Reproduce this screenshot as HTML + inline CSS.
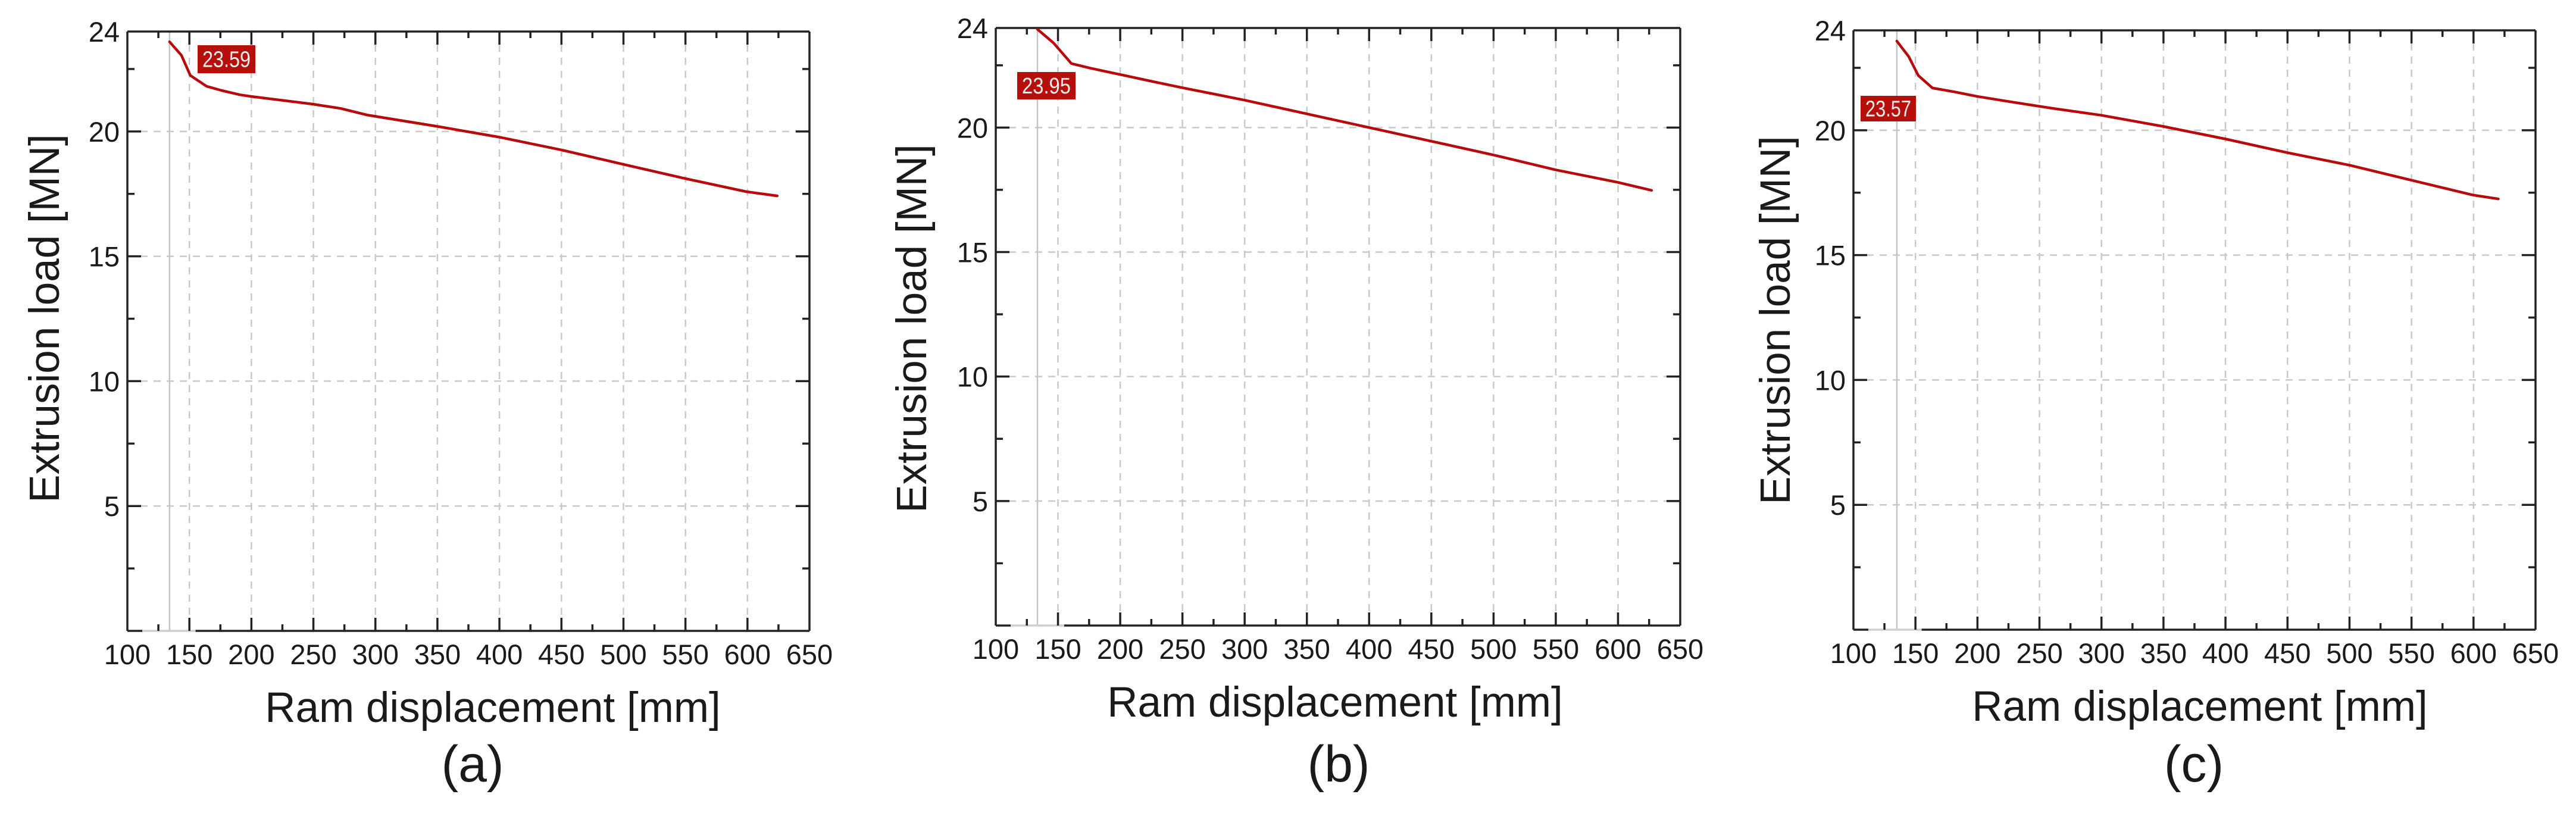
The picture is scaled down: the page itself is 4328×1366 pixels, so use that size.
<!DOCTYPE html>
<html>
<head>
<meta charset="utf-8">
<style>
  html, body { margin: 0; padding: 0; background: #ffffff; }
  svg { display: block; }
  text { font-family: "Liberation Sans", "DejaVu Sans", sans-serif; fill: #1a1a1a; }
</style>
</head>
<body>
<svg id="fig" xmlns="http://www.w3.org/2000/svg" width="4328" height="1366" viewBox="0 0 4328 1366">
  <rect x="0" y="0" width="4328" height="1366" fill="#ffffff"/>
</svg>
<script>
// ---- data ----
const xTicks = [100, 150, 200, 250, 300, 350, 400, 450, 500, 550, 600, 650];
const yTicks = [5, 10, 15, 20, 24];
const yGrid = [5, 10, 15, 20];
const panelLabels = ["(a)", "(b)", "(c)"];
const peakLabels = ["23.59", "23.95", "23.57"];
const cursorX = [134, 133.5, 135];

const dispA = [134, 143.6, 150.8, 163.8, 176, 190.6, 200, 250, 272, 293, 350, 399, 450, 500, 550, 599, 624];
const loadA = [23.59, 23.05, 22.24, 21.81, 21.64, 21.47, 21.40, 21.09, 20.92, 20.66, 20.2, 19.78, 19.26, 18.68, 18.11, 17.59, 17.42];

const dispB = [133.5, 146.4, 160.8, 176.6, 199, 228, 250, 300, 350, 400, 450, 500, 550, 600, 627];
const loadB = [23.95, 23.4, 22.57, 22.38, 22.14, 21.83, 21.6, 21.1, 20.55, 20.0, 19.45, 18.9, 18.3, 17.8, 17.48];

const dispC = [135, 144.6, 152.3, 163.8, 181, 200.3, 229, 260, 300, 350, 400, 450, 500, 550, 600, 620];
const loadC = [23.57, 22.95, 22.19, 21.69, 21.54, 21.35, 21.12, 20.88, 20.6, 20.15, 19.65, 19.1, 18.6, 18.0, 17.4, 17.25];

const seriesX = [dispA, dispB, dispC];
const seriesY = [loadA, loadB, loadC];

// ---- layout (pixels) ----
const panels = [
  {left: 214, right: 1360, top: 53, bottom: 1060, ytx: 73, yty: 535, xtx: 828, cap: 794, box: [332, 76, 97, 47]},
  {left: 1673, right: 2823, top: 47, bottom: 1051, ytx: 1530, yty: 552, xtx: 2243, cap: 2249, box: [1709, 121, 98, 46]},
  {left: 3114, right: 4260, top: 51, bottom: 1058, ytx: 2981, yty: 538, xtx: 3696, cap: 3686, box: [3126, 161, 93, 43]}
];
const X_MIN = 100, X_MAX = 650, Y_MIN = 0, Y_MAX = 24;
const NS = "http://www.w3.org/2000/svg";
const svg = document.getElementById("fig");

function mk(tag, attrs, parent) {
  const e = document.createElementNS(NS, tag);
  for (const k in attrs) e.setAttribute(k, attrs[k]);
  (parent || svg).appendChild(e);
  return e;
}

panels.forEach((p, i) => {
  const sx = v => p.left + (v - X_MIN) / (X_MAX - X_MIN) * (p.right - p.left);
  const sy = v => p.bottom - (v - Y_MIN) / (Y_MAX - Y_MIN) * (p.bottom - p.top);

  const g = mk("g", {});
  
  

  // grid
  const grid = mk("g", {stroke: "#c9c9c9", "stroke-width": 2.5, "stroke-dasharray": "12 10", fill: "none"}, g);
  
  
  xTicks.forEach(t => {
    if (t > X_MIN && t < X_MAX) mk("line", {x1: sx(t), x2: sx(t), y1: p.top, y2: p.bottom}, grid);
  });
  yGrid.forEach(t => mk("line", {x1: p.left, x2: p.right, y1: sy(t), y2: sy(t)}, grid));

  // cursor line
  const cur = mk("line", {x1: sx(cursorX[i]), x2: sx(cursorX[i]), y1: p.top, y2: p.bottom, stroke: "#c4c4c4", "stroke-width": 2.5}, g);
  
  

  // axes frame
  const ax = mk("g", {stroke: "#222", "stroke-width": 3.5, fill: "none"}, g);
  
  
  mk("line", {x1: p.left, x2: p.right, y1: p.top, y2: p.top}, ax);
  mk("line", {x1: p.right, x2: p.right, y1: p.top, y2: p.bottom}, ax);
  mk("line", {x1: p.left, x2: p.left, y1: p.top, y2: p.bottom}, ax);
  mk("line", {x1: p.left, x2: sx(112), y1: p.bottom, y2: p.bottom}, ax);
  mk("line", {x1: sx(112), x2: sx(155), y1: p.bottom, y2: p.bottom, stroke: "#cfcfcf"}, ax);
  mk("line", {x1: sx(155), x2: p.right, y1: p.bottom, y2: p.bottom}, ax);

  // ticks
  const tk = mk("g", {stroke: "#222", "stroke-width": 3.5}, g);
  
  
  for (let v = X_MIN; v <= X_MAX; v += 25) {
    const len = (v % 50 === 0) ? 22 : 11;
    if (v === X_MIN || v === X_MAX) continue;
    mk("line", {x1: sx(v), x2: sx(v), y1: p.bottom, y2: p.bottom - len}, tk);
    mk("line", {x1: sx(v), x2: sx(v), y1: p.top, y2: p.top + len}, tk);
  }
  for (let v = 2.5; v < Y_MAX; v += 2.5) {
    const len = (v % 5 === 0) ? 23 : 12;
    mk("line", {x1: p.left, x2: p.left + len, y1: sy(v), y2: sy(v)}, tk);
    mk("line", {x1: p.right, x2: p.right - len, y1: sy(v), y2: sy(v)}, tk);
  }

  // tick labels
  xTicks.forEach(t => {
    const e = mk("text", {x: sx(t), y: p.bottom + 56, "font-size": 47, "text-anchor": "middle"}, g);
    e.textContent = t;
    
    
  });
  yTicks.forEach(t => {
    const e = mk("text", {x: p.left - 13, y: sy(t) + 17, "font-size": 47, "text-anchor": "end"}, g);
    e.textContent = t;
    
    
  });

  // axis titles
  const xt = mk("text", {x: p.xtx, y: p.bottom + 153, "font-size": 71, "text-anchor": "middle"}, g);
  xt.textContent = "Ram displacement [mm]";
  
  

  const yt = mk("text", {x: 0, y: 0, "font-size": 71, "text-anchor": "middle", transform: `translate(${p.ytx + 26},${p.yty}) rotate(-90)`}, g);
  yt.textContent = "Extrusion load [MN]";
  
  

  // series line
  const xs = seriesX[i], ys = seriesY[i];
  let d = "";
  xs.forEach((v, k) => {
    const yy = Math.max(p.top + 1, sy(ys[k]));
    d += (k === 0 ? "M" : "L") + sx(v).toFixed(1) + " " + yy.toFixed(1) + " ";
  });
  const line = mk("path", {d: d, fill: "none", stroke: "#b80a0a", "stroke-width": 4.5, "stroke-linejoin": "round", "stroke-linecap": "round"}, g);
  
  

  // peak value box
  const b = p.box;
  const bg = mk("g", {}, g);
  
  
  mk("rect", {x: b[0], y: b[1], width: b[2], height: b[3], fill: "#b5100c"}, bg);
  const bt = mk("text", {x: b[0] + b[2] / 2, y: b[1] + b[3] / 2 + 13, "font-size": 38, "text-anchor": "middle", textLength: b[2] - 16, lengthAdjust: "spacingAndGlyphs", style: "fill:#f4ecec"}, bg);
  bt.textContent = peakLabels[i];

  // panel caption
  const cp = mk("text", {x: p.cap, y: 1313, "font-size": 86, "text-anchor": "middle"}, g);
  cp.textContent = panelLabels[i];
  
  
});
</script>
</body>
</html>
